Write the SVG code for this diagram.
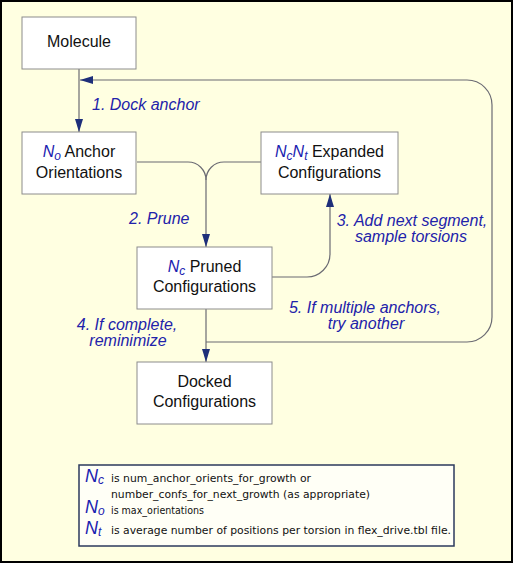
<svg xmlns="http://www.w3.org/2000/svg" width="514" height="564" viewBox="0 0 514 564">
<style>
.box{fill:#ffffff;stroke:#8c8c8c;stroke-width:1}
.nt{font-family:"Liberation Sans",Arial,sans-serif;font-size:16px;fill:#111;text-anchor:middle}
.n{font-style:italic;fill:#1a22b0}
.lbl{font-family:"Liberation Sans",Arial,sans-serif;font-size:16px;font-style:italic;fill:#2222aa}
.ln{fill:none;stroke:#6b6b73;stroke-width:1.2}
.lg{font-family:"DejaVu Sans",Verdana,sans-serif;font-size:11px;fill:#111}
.lgn{font-family:"Liberation Sans",Arial,sans-serif;font-style:italic;fill:#1a22b0;font-size:18px}
.lgs{font-size:12px}
</style>
<defs>
<marker id="ah" viewBox="0 0 13 8" refX="13" refY="4" markerWidth="13" markerHeight="8" markerUnits="userSpaceOnUse" orient="auto">
<path d="M0,0 L13,4 L0,8 Z" fill="#1e2f7a"/>
</marker>
</defs>
<rect x="1" y="1" width="511" height="561" fill="#ffffe1" stroke="#000" stroke-width="2"/>
<g id="connectors">
<path class="ln" d="M79,69 V132" marker-end="url(#ah)"/>
<path class="ln" d="M206,342 H467 A25,25 0 0 0 492,317 V105 A25,25 0 0 0 467,80 H80" marker-end="url(#ah)"/>
<path class="ln" d="M137,162 H188 A18,18 0 0 1 206,180 V247" marker-end="url(#ah)"/>
<path class="ln" d="M261,162 H224 A18,18 0 0 0 206,180"/>
<path class="ln" d="M272,277 H307 A23,23 0 0 0 330,254 V194" marker-end="url(#ah)"/>
<path class="ln" d="M206,309 V362" marker-end="url(#ah)"/>
</g>
<g id="molecule">
<rect class="box" x="22" y="17" width="114" height="52"/>
<text class="nt" x="79" y="47">Molecule</text>
</g>
<g id="anchor">
<rect class="box" x="22" y="132" width="114" height="62"/>
<text class="nt" x="79" y="157"><tspan class="n">N</tspan><tspan class="n" font-size="12" dy="3">o</tspan><tspan dy="-3"> Anchor</tspan></text>
<text class="nt" x="79" y="178">Orientations</text>
</g>
<g id="expanded">
<rect class="box" x="261" y="132" width="137" height="62"/>
<text class="nt" x="329.5" y="157"><tspan class="n">N</tspan><tspan class="n" font-size="12" dy="3">c</tspan><tspan class="n" dy="-3">N</tspan><tspan class="n" font-size="12" dy="3">t</tspan><tspan dy="-3"> Expanded</tspan></text>
<text class="nt" x="329.5" y="178">Configurations</text>
</g>
<g id="pruned">
<rect class="box" x="137" y="247" width="135" height="62"/>
<text class="nt" x="204.5" y="272"><tspan class="n">N</tspan><tspan class="n" font-size="12" dy="3">c</tspan><tspan dy="-3"> Pruned</tspan></text>
<text class="nt" x="204.5" y="292">Configurations</text>
</g>
<g id="docked">
<rect class="box" x="137" y="362" width="135" height="62"/>
<text class="nt" x="204.5" y="387">Docked</text>
<text class="nt" x="204.5" y="407">Configurations</text>
</g>
<g id="labels">
<text class="lbl" x="92" y="110">1. Dock anchor</text>
<text class="lbl" x="129" y="224">2. Prune</text>
<text class="lbl" x="412" y="226" text-anchor="middle">3. Add next segment,</text>
<text class="lbl" x="411" y="242" text-anchor="middle">sample torsions</text>
<text class="lbl" x="127" y="330" text-anchor="middle">4. If complete,</text>
<text class="lbl" x="128" y="346" text-anchor="middle">reminimize</text>
<text class="lbl" x="365" y="313" text-anchor="middle">5. If multiple anchors,</text>
<text class="lbl" x="366" y="329" text-anchor="middle">try another</text>
</g>
<g id="legend">
<rect x="79" y="465" width="375" height="81" fill="#fffff6" stroke="#2c3a5c" stroke-width="1.5"/>
<text class="lgn" x="85" y="482">N<tspan class="lgs" dy="2">c</tspan></text>
<text class="lg" x="111" y="482" textLength="200" lengthAdjust="spacingAndGlyphs">is num_anchor_orients_for_growth or</text>
<text class="lg" x="111" y="498" textLength="259" lengthAdjust="spacingAndGlyphs">number_confs_for_next_growth (as appropriate)</text>
<text class="lgn" x="85" y="513">N<tspan class="lgs" dy="2">o</tspan></text>
<text class="lg" x="111" y="514" textLength="93" lengthAdjust="spacingAndGlyphs">is max_orientations</text>
<text class="lgn" x="85" y="534">N<tspan class="lgs" dy="2">t</tspan></text>
<text class="lg" x="111" y="534" textLength="340" lengthAdjust="spacingAndGlyphs">is average number of positions per torsion in flex_drive.tbl file.</text>
</g>
</svg>
